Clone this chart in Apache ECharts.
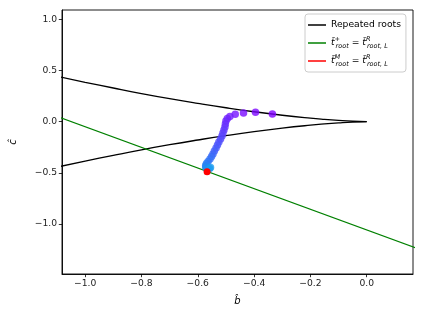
<!DOCTYPE html>
<html><head><meta charset="utf-8">
<script src="https://cdn.jsdelivr.net/npm/echarts@6/dist/echarts.min.js"></script>
<style>html,body{margin:0;padding:0;background:#fff}#c{width:423px;height:317px}</style>
</head><body><div id="c"></div>
<script>
// Repeated roots curve (upper branch; lower branch is its mirror, read separately)
const rrB = [-1.10, -1.00, -0.90, -0.80, -0.70, -0.60, -0.50, -0.40, -0.30, -0.20, -0.15, -0.10, -0.05, 0.00];
const rrUpperC = [0.444, 0.385, 0.329, 0.275, 0.225, 0.179, 0.136, 0.097, 0.063, 0.034, 0.022, 0.012, 0.004, 0.000];
const rrLowerC = [-0.444, -0.385, -0.329, -0.275, -0.225, -0.179, -0.136, -0.097, -0.063, -0.034, -0.022, -0.012, -0.004, 0.000];
// Green line endpoints
const greenB = [-1.10, 0.20];
const greenC = [0.051, -1.259];
// Trajectory (scatter) points
const trailB = [-0.335, -0.395, -0.4375, -0.467, -0.486, -0.495, -0.500, -0.502, -0.5035, -0.507, -0.5106, -0.514, -0.519, -0.525, -0.530, -0.535, -0.541, -0.546, -0.551, -0.5565, -0.5635, -0.569, -0.572, -0.572, -0.569, -0.5635, -0.558, -0.5547];
const trailC = [0.075, 0.092, 0.085, 0.072, 0.051, 0.031, 0.007, -0.022, -0.052, -0.081, -0.110, -0.140, -0.169, -0.198, -0.227, -0.257, -0.286, -0.316, -0.340, -0.364, -0.389, -0.408, -0.428, -0.443, -0.457, -0.462, -0.457, -0.447];
// Red point
const redB = [-0.567];
const redC = [-0.489];
// Ticks
const xTicks = [-1.0, -0.8, -0.6, -0.4, -0.2, 0.0];
const yTicks = [-1.0, -0.5, 0.0, 0.5, 1.0];

const zip = (a, b) => a.map((v, i) => [v, b[i]]);
const trailData = trailB.map((v, i) => [v, trailC[i], i / (trailB.length - 1)]);
const fmt = v => (Math.abs(v) < 1e-9 ? '0.0' : v.toFixed(1).replace('-', '\u2212'));
const FONT = 'DejaVu Sans';

const chart = echarts.init(document.getElementById('c'), null, {renderer: 'canvas'});
chart.setOption({
  animation: false,
  textStyle: {fontFamily: FONT},
  grid: {left: 60, right: 10, top: 10, bottom: 43, show: true, borderColor: '#000', borderWidth: 0.9, backgroundColor: 'transparent'},
  xAxis: {
    type: 'value', min: -1.0822, max: 0.1644,
    name: 'b\u0302', nameLocation: 'middle', nameGap: 22,
    nameTextStyle: {fontFamily: FONT, fontSize: 10, fontStyle: 'italic', color: '#000'},
    axisLine: {show: true, onZero: false, lineStyle: {color: '#000', width: 0.9}},
    axisTick: {show: true, length: 3.2, customValues: xTicks, lineStyle: {color: '#000', width: 0.8}},
    axisLabel: {customValues: xTicks, formatter: fmt, fontSize: 9.2, margin: 5, color: '#222', fontFamily: FONT},
    splitLine: {show: false}
  },
  yAxis: {
    type: 'value', min: -1.488, max: 1.091,
    name: 'c\u0302', nameLocation: 'middle', nameGap: 44, nameRotate: 90,
    nameTextStyle: {fontFamily: FONT, fontSize: 10, fontStyle: 'italic', color: '#000'},
    axisLine: {show: true, onZero: false, lineStyle: {color: '#000', width: 0.9}},
    axisTick: {show: true, length: 3.2, customValues: yTicks, lineStyle: {color: '#000', width: 0.8}},
    axisLabel: {customValues: yTicks, formatter: fmt, fontSize: 9.2, margin: 5, color: '#222', fontFamily: FONT},
    splitLine: {show: false}
  },
  legend: {
    data: ['rr', 'green', 'red'],
    orient: 'vertical', left: 305, top: 14,
    padding: [3, 5, 3, 3], itemGap: 2,
    itemWidth: 18, itemHeight: 1.5, icon: 'rect',
    itemStyle: {borderWidth: 0},
    backgroundColor: 'rgba(255,255,255,0.85)', borderColor: '#ccc', borderWidth: 1, borderRadius: 3,
    formatter: function (name) {
      if (name === 'rr') return '{n|Repeated roots}';
      if (name === 'green') return '{t|t\u0303}{sp|+}{sb|root}{n| = }{t|t\u0303}{sp|R}{sb|root, L}';
      return '{t|t\u0303}{sp|M}{sb|root}{n| = }{t|t\u0303}{sp|R}{sb|root, L}';
    },
    textStyle: {
      fontFamily: FONT, fontSize: 9.2, color: '#000', lineHeight: 16,
      rich: {
        n: {fontFamily: FONT, fontSize: 9.2, color: '#000', lineHeight: 16},
        t: {fontFamily: FONT, fontSize: 9.2, fontStyle: 'italic', color: '#000', lineHeight: 16},
        sp: {fontFamily: FONT, fontSize: 6.5, fontStyle: 'italic', color: '#000', width: 1, verticalAlign: 'top', lineHeight: 16, padding: [1, 0, 0, 0]},
        sb: {fontFamily: FONT, fontSize: 6.5, fontStyle: 'italic', color: '#000', verticalAlign: 'bottom', lineHeight: 16, padding: [0, 0, 1, 0]}
      }
    }
  },
  visualMap: {
    show: false, type: 'continuous', dimension: 2, min: 0, max: 1, seriesIndex: 3,
    inRange: {color: ['#8000ff', '#6a2cfe', '#4d4ffc', '#2f78f6', '#1a9cf0']}
  },
  series: [
    {name: 'rr', type: 'line', data: zip(rrB, rrUpperC), showSymbol: false, smooth: true, lineStyle: {color: '#000', width: 1.3}, itemStyle: {color: '#000'}, z: 2},
    {name: 'rr', type: 'line', data: zip(rrB, rrLowerC), showSymbol: false, smooth: true, lineStyle: {color: '#000', width: 1.3}, itemStyle: {color: '#000'}, z: 2},
    {name: 'green', type: 'line', data: zip(greenB, greenC), showSymbol: false, lineStyle: {color: '#008000', width: 1.3}, itemStyle: {color: '#008000'}, z: 2},
    {name: 'trail', type: 'scatter', data: trailData, symbolSize: 7.5, z: 3},
    {name: 'red', type: 'line', data: zip(redB, redC), showSymbol: true, symbol: 'circle', symbolSize: 7, lineStyle: {color: '#ff0000', width: 1.3}, itemStyle: {color: '#ff0000'}, z: 4}
  ]
});
</script>
</body></html>
